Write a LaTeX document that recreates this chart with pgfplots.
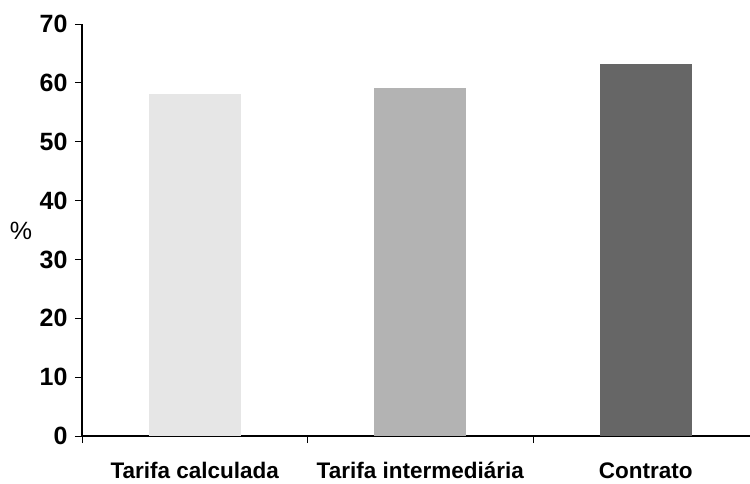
\documentclass[border=0pt]{standalone}
\usepackage{fontspec}
\setmainfont{Liberation Sans}
\usepackage{pgfplots}
\pgfplotsset{compat=1.18}
\definecolor{barA}{HTML}{E6E6E6}
\definecolor{barB}{HTML}{B3B3B3}
\definecolor{barC}{HTML}{666666}

\begin{document}
\begin{tikzpicture}
\begin{axis}[
  at={(0,0)}, anchor=south west,
  scale only axis,
  width=668bp, height=412bp,
  xmin=-0.5, xmax=2.462,
  ymin=0, ymax=70,
  axis x line*=bottom,
  axis y line*=left,
  axis line style={line width=1.3bp},
  ytick={0,10,...,70},
  xtick={-0.5,0.5,1.5},
  xticklabels={},
  tick align=outside,
  major tick length=7bp,
  tick style={black, line width=0.9bp},
  extra x ticks={0,1,2},
  extra x tick labels={Tarifa calculada, Tarifa intermediária, Contrato},
  extra x tick style={major tick length=0pt,
    xticklabel style={anchor=base, yshift=-42bp}},
  xticklabel style={font=\fontsize{22.5bp}{26bp}\selectfont\bfseries},
  yticklabel style={font=\fontsize{25bp}{28bp}\selectfont\bfseries, xshift=-4bp},
  /pgf/number format/assume math mode=true,
  clip=false,
]
\addplot[ybar, bar width=92bp, draw=none, fill=barA] coordinates {(0,58.1)};
\addplot[ybar, bar width=92bp, draw=none, fill=barB] coordinates {(1,59.1)};
\addplot[ybar, bar width=92bp, draw=none, fill=barC] coordinates {(2,63.2)};
\node[font=\fontsize{25bp}{28bp}\selectfont] at (rel axis cs:0,0.5) [xshift=-61bp, yshift=-1bp] {\%};
\end{axis}
\pgfresetboundingbox
\path (-82bp,-48bp) rectangle (668bp,436bp);
\end{tikzpicture}
\end{document}
